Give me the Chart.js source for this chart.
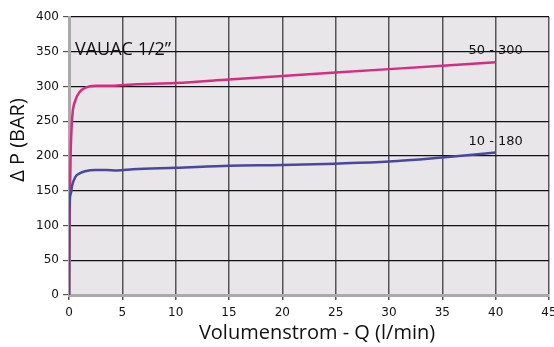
<!DOCTYPE html>
<html>
<head>
<meta charset="utf-8">
<script src="https://cdn.jsdelivr.net/npm/chart.js@4"></script>
<style>
  html, body { margin: 0; padding: 0; background: #fff; }
  #wrap { width: 554px; height: 347px; }
</style>
</head>
<body>
<div id="wrap"><canvas id="chart" width="554" height="347"></canvas></div>
<script>
// values
const q300 = [0, 0.05, 0.15, 0.3, 0.6, 1, 1.5, 2.5, 4, 6, 10, 15, 20, 25, 30, 35, 40];
const p300 = [0, 100, 200, 255, 280, 292, 298, 301, 301, 303, 305, 310, 315, 320, 325, 330, 335];
const q180 = [0, 0.02, 0.15, 0.3, 0.6, 1, 1.5, 2.5, 3.5, 4.5, 6, 10, 15, 20, 25, 30, 35, 40];
const p180 = [0, 120, 145, 158, 170, 175, 178, 180, 180, 179, 181, 183, 186, 187, 189, 192, 198, 205];
const curveLabels = ["50 - 300", "10 - 180"];
const title = "VAUAC 1/2\u201D";

const pts = (xs, ys) => xs.map((x, i) => ({x: x, y: ys[i]}));

const plotBg = {
    id: 'plotBg',
    beforeDraw(chart) {
        const a = chart.chartArea, c = chart.ctx;
        c.save();
        c.fillStyle = '#e8e6e8';
        c.fillRect(a.left, a.top, a.right - a.left, a.bottom - a.top);
        c.restore();
    },
    afterDraw(chart) {
        const c = chart.ctx, sx = chart.scales.x, sy = chart.scales.y;
        c.save();
        c.fillStyle = '#111';
        c.font = '13px "DejaVu Sans"';
        c.textAlign = 'center';
        c.textBaseline = 'middle';
        c.fillText(curveLabels[0], sx.getPixelForValue(40), sy.getPixelForValue(351));
        c.fillText(curveLabels[1], sx.getPixelForValue(40), sy.getPixelForValue(221));
        c.font = '18px "Open Sans"';
        c.textAlign = 'left';
        c.textBaseline = 'alphabetic';
        c.fillText(title, 75, 55);
        // axis titles
        c.textAlign = 'center';
        c.textBaseline = 'middle';
        c.font = '20px "Open Sans"';
        c.fillText('Volumenstrom - Q (l/min)', 317, 333);
        c.translate(18, 140);
        c.rotate(-Math.PI / 2);
        c.fillText('\u0394 P (BAR)', 0, 0);
        c.restore();
    }
};

const config = {
    type: 'scatter',
    data: {
        datasets: [
            {
            label: curveLabels[1],
            data: pts(q180, p180),
            showLine: true,
            borderColor: '#4a479e',
            borderWidth: 2.5,
            pointRadius: 0,
            cubicInterpolationMode: 'monotone'
            },
            {
            label: curveLabels[0],
            data: pts(q300, p300),
            showLine: true,
            borderColor: '#d52d84',
            borderWidth: 2.5,
            pointRadius: 0,
            cubicInterpolationMode: 'monotone'
            }
        ]
    },
    options: {
        responsive: false,
        animation: false,
        layout: { padding: { left: 0, right: 5, top: 17, bottom: 0 } },
        plugins: { legend: { display: false }, tooltip: { enabled: false } },
        scales: {
            x: {
                type: 'linear', min: 0, max: 45,
                ticks: { stepSize: 5, color: '#111', font: { size: 12, family: 'DejaVu Sans' }, padding: 6 },
                grid: { color: '#555', lineWidth: 1.5, tickLength: 5, tickColor: '#555' },
                border: { color: '#aaa', width: 3 },
                afterFit(s) { s.height = 52; s.paddingLeft = 0; s.paddingRight = 0; }
            },
            y: {
                min: 0, max: 400,
                ticks: { stepSize: 50, color: '#111', font: { size: 12, family: 'DejaVu Sans' }, padding: 4 },
                grid: { color: '#111', lineWidth: 1.2, tickLength: 6, tickColor: '#555' },
                border: { color: '#aaa', width: 3 },
                afterFit(s) { s.width = 69; s.paddingTop = 0; s.paddingBottom = 0; }
            }
        }
    },
    plugins: [plotBg]
};

new Chart(document.getElementById('chart'), config);
</script>
</body>
</html>
